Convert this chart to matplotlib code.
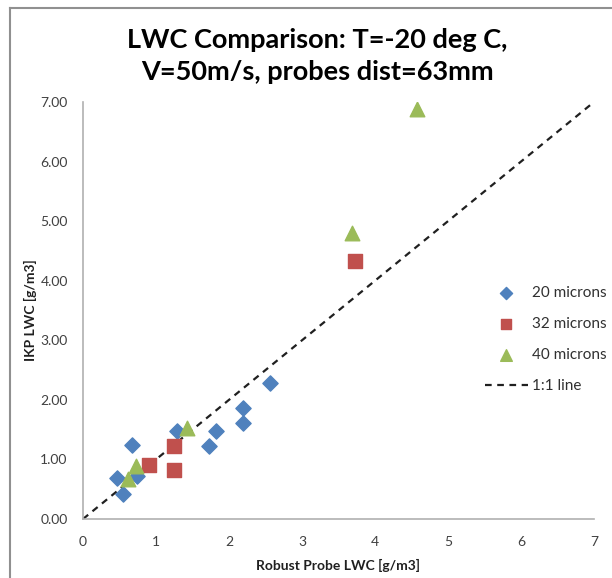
import matplotlib.pyplot as plt
from matplotlib.lines import Line2D

plt.rcParams['font.family'] = ['Lato', 'DejaVu Sans']

# Robust probe LWC (x) vs IKP LWC (y), g/m3
x20 = [0.47, 0.55, 0.74, 0.675, 1.29, 1.73, 1.82, 2.19, 2.19, 2.56]
y20 = [0.68, 0.42, 0.72, 1.24, 1.48, 1.22, 1.48, 1.87, 1.61, 2.29]
x32 = [0.90, 1.24, 1.25, 3.72]
y32 = [0.90, 1.22, 0.83, 4.33]
x40 = [0.61, 0.72, 1.43, 3.68, 4.57]
y40 = [0.67, 0.89, 1.52, 4.80, 6.88]
one_to_one = [0, 7]

fig = plt.figure(figsize=(6.12, 5.78), dpi=100)
ax = fig.add_axes([83 / 612, 1 - 519 / 578, (594 - 83) / 612, (519 - 102) / 578])

ax.scatter(x20, y20, marker='D', s=60, color='#4F81BD', label='20 microns', zorder=3)
ax.scatter(x32, y32, marker='s', s=95, color='#C0504D', label='32 microns', zorder=3)
ax.scatter(x40, y40, marker='^', s=110, color='#9BBB59', label='40 microns', zorder=3)
ax.plot(one_to_one, one_to_one, color='#202020', lw=1.6, ls=(0, (3, 2.5)), label='1:1 line', zorder=2)

ax.set_xlim(0, 7)
ax.set_ylim(0, 7)
ax.set_xticks(range(8))
ax.set_yticks(range(8))
ax.set_yticklabels(['%.2f' % v for v in range(8)])
ax.tick_params(length=0, labelsize=10, labelcolor='#404040')
ax.tick_params(axis='x', pad=12)
ax.tick_params(axis='y', pad=11)
for side in ['top', 'right']:
    ax.spines[side].set_visible(False)
for side in ['left', 'bottom']:
    ax.spines[side].set_color('#b0b0b0')
    ax.spines[side].set_linewidth(1.2)

ax.set_xlabel('Robust Probe LWC [g/m3]', fontsize=10, fontweight='bold', color='#202020', labelpad=8)
ax.set_ylabel('IKP LWC [g/m3]', fontsize=10, fontweight='bold', color='#202020')
ax.yaxis.set_label_coords((37 - 83) / 511, 0.5)

fig.text(317 / 612, 1 - 40 / 578, 'LWC Comparison: T=-20 deg C,', ha='center', va='center',
         fontsize=19.5, fontweight='bold', color='#000000')
fig.text(317 / 612, 1 - 72 / 578, 'V=50m/s, probes dist=63mm', ha='center', va='center',
         fontsize=19.5, fontweight='bold', color='#000000')

leg = ax.legend(loc='center left', bbox_to_anchor=(0.76, 0.43), frameon=False, fontsize=11,
                labelspacing=1.1, handlelength=2.8, handletextpad=0.3, markerscale=0.8)
for t in leg.get_texts():
    t.set_color('#303030')

# gray border on left and top of the picture
fig.add_artist(Line2D([10 / 612, 10 / 612], [0, 1 - 8 / 578], color='#909090', lw=1.5))
fig.add_artist(Line2D([10 / 612, 1], [1 - 8 / 578, 1 - 8 / 578], color='#909090', lw=1.5))

fig.savefig('out.png', dpi=100)
